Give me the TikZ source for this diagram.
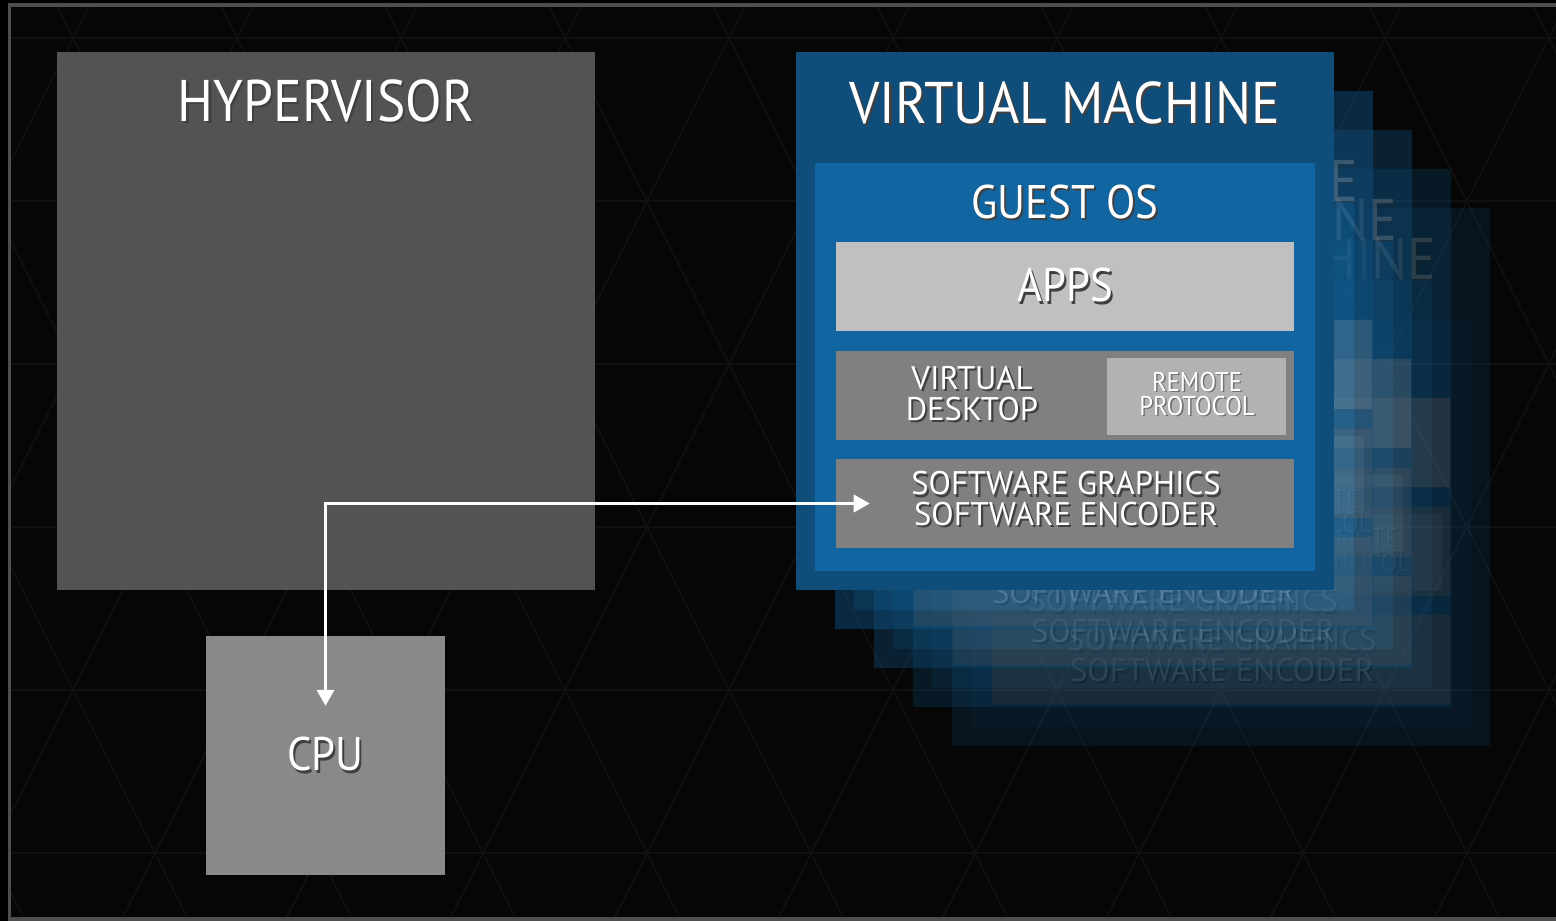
\documentclass[tikz,border=0pt]{standalone}
\usepackage{fontspec}
\setmainfont{PT Sans}
\newfontfamily\narrowfont{PT Sans}[FakeStretch=0.91]
\usetikzlibrary{arrows.meta}

\definecolor{slidebg}{HTML}{060606}
\definecolor{framegray}{HTML}{4E4E4E}
\definecolor{gridgray}{HTML}{101010}
\definecolor{hypgray}{HTML}{535353}
\definecolor{cpugray}{HTML}{898989}
\definecolor{vmblue}{HTML}{0F4D7A}
\definecolor{osblue}{HTML}{1166A1}
\definecolor{appgray}{HTML}{C0C0C0}
\definecolor{bargray}{HTML}{808080}
\definecolor{remgray}{HTML}{B2B2B2}

% white text with a small dark drop shadow
\newcommand{\txtshadow}[1]{\makebox[0pt][l]{\kern0.6pt\raisebox{-0.6pt}{\color{black!75}#1}}#1}
\newcommand{\txtshadowsm}[1]{\makebox[0pt][l]{\kern0.45pt\raisebox{-0.45pt}{\color{black!55}#1}}#1}

\tikzstyle{box} = [rectangle, inner sep=0, outer sep=0]
\tikzstyle{hypbox} = [box, fill=hypgray, minimum width=5.38cm, minimum height=5.38cm]
\tikzstyle{cpubox} = [box, fill=cpugray, minimum width=2.39cm, minimum height=2.39cm]
\tikzstyle{vmbox} = [box, fill=vmblue, minimum width=5.38cm, minimum height=5.38cm]
\tikzstyle{osbox} = [box, fill=osblue, minimum width=5.00cm, minimum height=4.08cm]
\tikzstyle{barbox} = [box, fill=bargray, minimum width=4.58cm, minimum height=0.89cm]
\tikzstyle{appbox} = [barbox, fill=appgray]
\tikzstyle{rembox} = [box, fill=remgray, minimum width=1.79cm, minimum height=0.77cm]
\tikzstyle{bigtxt} = [text=white, inner sep=0, font=\narrowfont\fontsize{16.7}{20}\selectfont]
\tikzstyle{midtxt} = [text=white, inner sep=0, font=\narrowfont\fontsize{13.4}{16}\selectfont]
\tikzstyle{smalltxt} = [text=white, inner sep=0, align=center, font=\fontsize{9.3}{8.8}\selectfont]
\tikzstyle{tinytxt} = [text=white, inner sep=0, align=center, font=\narrowfont\fontsize{7.7}{6.8}\selectfont]
\tikzstyle{grid} = [draw=gridgray, line width=0.5pt]
\tikzstyle{line} = [draw=white, line width=1.1pt, {Triangle[length=4.6pt,width=4.8pt]}-{Triangle[length=4.6pt,width=4.8pt]}]

% one layer of the virtual machine, #1 is the name prefix
\newcommand{\vmlayer}[1]{%
  \node [vmbox] (#1vm) at (1065,321) {};
  \node [bigtxt] (#1vmtitle) at (1065,104) {\txtshadow{VIRTUAL MACHINE}};
  \node [osbox] (#1os) at (1065,367) {};
  \node [midtxt] (#1ostitle) at (1065,203) {\txtshadow{GUEST OS}};
  \node [appbox, midtxt] (#1apps) at (1065,286.5) {\txtshadow{APPS}};
  \node [barbox] (#1vd) at (1065,395.5) {};
  \node [smalltxt] (#1vdtxt) at (972,394.5) {\txtshadow{VIRTUAL}\\\txtshadow{DESKTOP}};
  \node [rembox] (#1rem) at (1196.5,396.5) {};
  \node [tinytxt] (#1remtxt) at (1197,394.5) {\txtshadowsm{REMOTE}\\\txtshadowsm{PROTOCOL}};
  \node [barbox] (#1sw) at (1065,503.5) {};
  \node [smalltxt] (#1swtxt) at (1066,500) {\txtshadow{SOFTWARE GRAPHICS}\\\txtshadow{SOFTWARE ENCODER}};
}

\begin{document}
\begin{tikzpicture}[x=0.01cm, y=-0.01cm]

\useasboundingbox (0,0) rectangle (1556,921);
\fill [black] (0,0) rectangle (1556,921);
\fill [slidebg] (9.5,5) rectangle (1600,919);

% faint triangle pattern
\begin{scope}
\clip (9.5,5) rectangle (1556,919);
\foreach \j in {0,...,5} \draw [grid] (0,{38+163*\j}) -- (1556,{38+163*\j});
\foreach \k in {-4,...,12} {
  \draw [grid] ({237+164*\k},1016) -- ({-337+164*\k},-125);
  \draw [grid] ({73+164*\k},1016) -- ({647+164*\k},-125);
}
\end{scope}
\draw [framegray, line width=1.1pt] (9.5,5) rectangle (1600,919);

\node [hypbox] (hyp) at (326,321) {};
\node [bigtxt] (hyptitle) at (326,102) {\txtshadow{HYPERVISOR}};
\node [cpubox, midtxt] (cpu) at (325.5,755.5) {\txtshadow{CPU}};

% fading copies behind the virtual machine
\foreach \k/\op in {4/0.2,3/0.28,2/0.38,1/0.5} {
  \begin{scope}[shift={(39*\k,39*\k)}, transparency group, opacity=\op]
    \vmlayer{c\k}
  \end{scope}
}
\vmlayer{m}

\coordinate (swin) at ([xshift=0.34cm]msw.west);
\coordinate (cpuin) at ([yshift=-0.7cm]cpu.north);
\path [line] (swin) -| (cpuin);

\end{tikzpicture}
\end{document}
